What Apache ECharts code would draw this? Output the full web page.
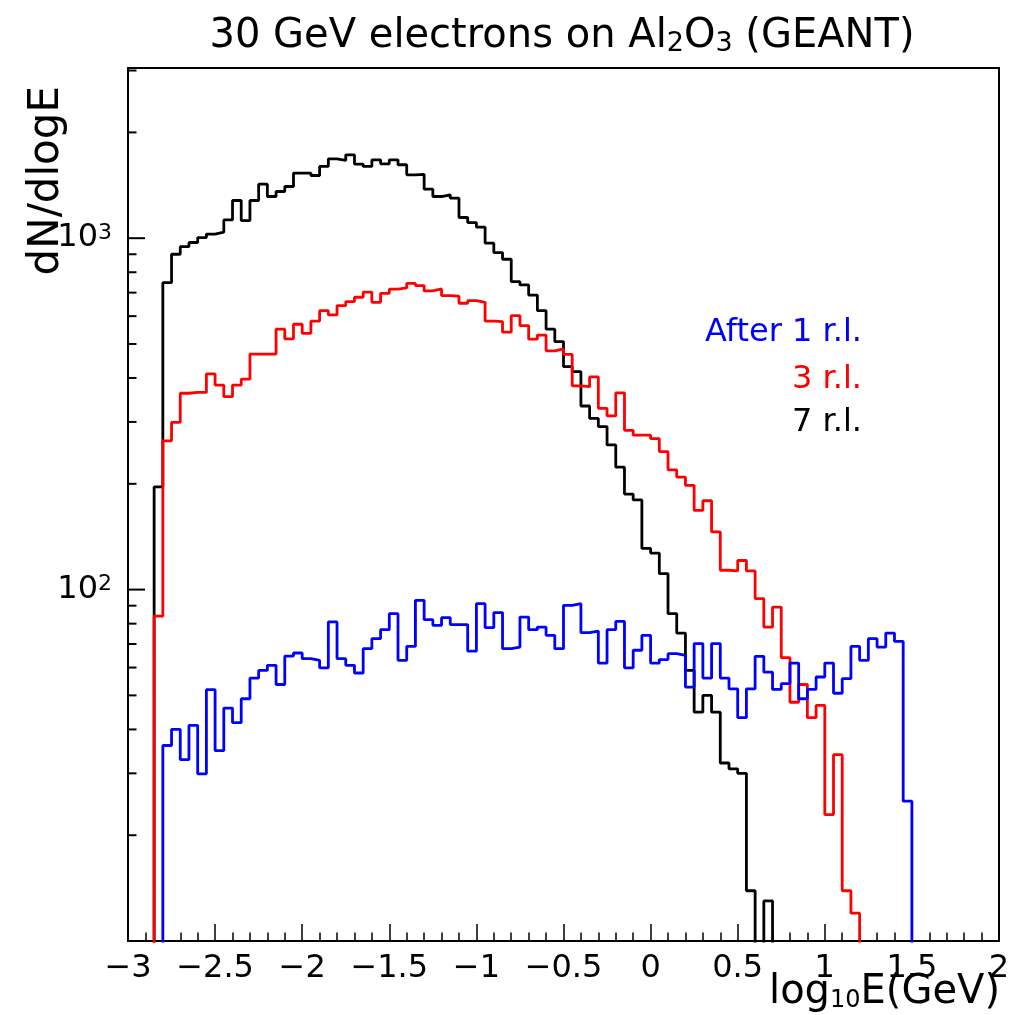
<!DOCTYPE html>
<html><head><meta charset="utf-8">
<script src="https://cdn.jsdelivr.net/npm/echarts@6/dist/echarts.min.js"></script>
<style>html,body{margin:0;padding:0;background:#fff}#c{width:1013px;height:1015px}</style>
</head><body><div id="c"></div>
<script>
// Histogram binning (log10 E in GeV): bins of 0.05 from -3 to 2
const HIST_MIN = -3, HIST_MAX = 2, BIN_W = 0.05;

const seriesNames  = ['After 1 r.l.', '3 r.l.', '7 r.l.'];
const seriesColors = ['#0000ff', '#ff0000', '#000000'];
const firstBinLow  = [-2.8, -2.85, -2.85];

// After 1 r.l. (blue), bins starting at -2.8
const blueCounts = [36.0, 40.0, 32.8, 41.1, 29.9, 51.9, 34.8, 46.0, 41.8, 48.9,
  56.0, 58.9, 60.9, 53.7, 64.7, 66.0, 63.6, 62.9, 59.9, 80.9,
  63.6, 60.9, 57.9, 67.9, 72.5, 76.9, 85.4, 62.9, 68.9, 93.2,
  82.1, 79.1, 83.2, 79.5, 79.5, 66.8, 91.2, 77.9, 86.0, 67.9,
  68.6, 83.5, 76.9, 78.2, 74.1, 67.9, 90.2, 91.2, 75.4, 76.2,
  61.8, 76.9, 81.2, 59.9, 67.2, 74.1, 61.8, 63.2, 65.7, 65.0,
  52.8, 70.2, 56.0, 70.2, 56.0, 52.2, 43.2, 52.2, 64.6, 58.2,
  52.0, 54.0, 61.8, 48.9, 52.0, 56.4, 61.8, 50.7, 55.8, 68.9,
  62.9, 72.5, 68.6, 75.2, 71.2, 25.0];

// 3 r.l. (red), bins starting at -2.85
const redCounts = [84, 265, 299, 362, 364, 364, 411, 382, 354, 382,
  397, 468, 468, 468, 551, 517, 569, 536, 581, 622,
  605, 643, 660, 679, 702, 657, 697, 716, 722, 744,
  733, 708, 717, 686, 684, 653, 664, 657, 581, 579,
  540, 602, 564, 516, 530, 478, 484, 467, 380, 378,
  403, 328, 312, 363, 284, 275, 275, 269, 247, 219,
  209, 198, 168, 179, 146, 113.5, 113, 121, 113, 94.3,
  78.2, 89.2, 64.0, 47.8, 53.7, 43.2, 46.8, 22.9, 33.9, 13.9,
  12.0];

// 7 r.l. (black), bins starting at -2.85
const blackCounts = [196, 747, 900, 946, 972, 1004, 1027, 1040, 1127, 1280,
  1122, 1280, 1425, 1314, 1358, 1403, 1532, 1532, 1508, 1600,
  1682, 1664, 1727, 1625, 1600, 1671, 1628, 1671, 1618, 1515,
  1520, 1379, 1314, 1329, 1300, 1145, 1108, 1075, 968, 910,
  871, 752, 736, 689, 622, 551, 508, 431, 417, 333,
  307, 291, 258, 223, 187, 180, 131, 127, 111, 85.4,
  75.2, 58.9, 44.8, 50.0, 44.8, 32.1, 30.9, 30.0, 13.9, 0,
  13.0];

const Y_MIN = 10, Y_MAX = 3050;
const yMajorTicks = [100, 1000];
const yMinorTicks = [20, 30, 40, 50, 60, 70, 80, 90, 200, 300, 400, 500, 600, 700, 800, 900, 2000, 3000];

const FLOOR = 1; // empty bins: drawn down to below the axis (clipped)
function stepData(counts, low) {
  const edge = i => Math.round((low + i * BIN_W) * 1000) / 1000;
  const pts = [[edge(0), FLOOR]];
  counts.forEach((c, i) => pts.push([edge(i), c > 0 ? c : FLOOR]));
  const n = counts.length;
  pts.push([edge(n), counts[n - 1] > 0 ? counts[n - 1] : FLOOR]);
  pts.push([edge(n), FLOOR]);
  return pts;
}
const allCounts = [blueCounts, redCounts, blackCounts];
const FONT = 'DejaVu Sans';

const chart = echarts.init(document.getElementById('c'), null, {renderer: 'canvas'});
const histSeries = [2, 1, 0].map(s => ({
  name: seriesNames[s], type: 'line', step: 'end', symbol: 'none',
  data: stepData(allCounts[s], firstBinLow[s]),
  lineStyle: {color: seriesColors[s], width: 2.8}, itemStyle: {color: seriesColors[s]},
  clip: true, silent: true, z: 3
}));

const tickData = yMajorTicks.map(v => [HIST_MIN, v, 1]).concat(yMinorTicks.map(v => [HIST_MIN, v, 0]));
const yTickSeries = {
  type: 'custom', coordinateSystem: 'cartesian2d', silent: true, clip: false, z: 6,
  encode: {x: 0, y: 1},
  data: tickData,
  renderItem: (params, api) => {
    const p = api.coord([api.value(0), api.value(1)]);
    const len = api.value(2) === 1 ? 17 : 8.5;
    return {type: 'line', shape: {x1: p[0], y1: p[1], x2: p[0] + len, y2: p[1]}, style: {stroke: '#000', lineWidth: 2}};
  }
};

chart.setOption({
  animation: false,
  backgroundColor: '#fff',
  grid: {left: 128, right: 14, top: 68, bottom: 74, show: true, borderColor: '#000', borderWidth: 2, backgroundColor: 'transparent'},
  xAxis: {
    type: 'value', min: HIST_MIN, max: HIST_MAX, interval: 0.5,
    axisLine: {show: true, onZero: false, lineStyle: {color: '#000', width: 2}},
    axisTick: {show: true, inside: true, length: 17, lineStyle: {color: '#000', width: 1.5}},
    minorTick: {show: true, splitNumber: 5, length: 8.5, lineStyle: {color: '#000', width: 1.5}},
    splitLine: {show: false},
    axisLabel: {
      margin: 12, color: '#000', fontFamily: FONT, fontSize: 32, showMinLabel: true, showMaxLabel: true,
      formatter: v => (v < 0 ? '\u2212' + String(Math.abs(v)) : String(v))
    }
  },
  yAxis: {
    type: 'log', logBase: 10, min: Y_MIN, max: Y_MAX,
    axisLine: {show: true, onZero: false, lineStyle: {color: '#000', width: 2}},
    axisTick: {show: false},
    splitLine: {show: false},
    axisLabel: {
      margin: 16, color: '#000', fontFamily: FONT, fontSize: 32, showMaxLabel: false,
      formatter: v => {
        const l = Math.log10(v), e = Math.round(l);
        return (Math.abs(l - e) < 1e-6 && e >= 2) ? '{b|10}{s|' + e + '}' : '';
      },
      rich: {b: {fontSize: 32, fontFamily: FONT, color: '#000'}, s: {fontSize: 22, fontFamily: FONT, color: '#000', verticalAlign: 'top'}}
    }
  },
  series: histSeries.concat([yTickSeries]),
  graphic: [
    {type: 'text', x: 562, y: 37, style: {text: '30 GeV electrons on Al{sub|2}O{sub|3} (GEANT)', fontSize: 40, fontFamily: FONT, fill: '#000', align: 'center', verticalAlign: 'middle',
      rich: {sub: {fontSize: 27, fontFamily: FONT, fill: '#000', verticalAlign: 'bottom'}}}},
    {type: 'text', x: 1000, y: 993, style: {text: 'log{sub|10}E(GeV)', fontSize: 40, fontFamily: FONT, fill: '#000', align: 'right', verticalAlign: 'middle',
      rich: {sub: {fontSize: 24, fontFamily: FONT, fill: '#000', verticalAlign: 'bottom'}}}},
    {type: 'text', x: 47, y: 86, rotation: Math.PI / 2, style: {text: 'dN/dlogE', fontSize: 42, fontFamily: FONT, fill: '#000', align: 'right', verticalAlign: 'middle'}},
    {type: 'text', x: 862, y: 333, style: {text: seriesNames[0], fontSize: 32, fontFamily: FONT, fill: seriesColors[0], align: 'right', verticalAlign: 'middle'}},
    {type: 'text', x: 862, y: 380, style: {text: seriesNames[1], fontSize: 32, fontFamily: FONT, fill: seriesColors[1], align: 'right', verticalAlign: 'middle'}},
    {type: 'text', x: 862, y: 423, style: {text: seriesNames[2], fontSize: 32, fontFamily: FONT, fill: seriesColors[2], align: 'right', verticalAlign: 'middle'}}
  ]
});
</script>
</body></html>
